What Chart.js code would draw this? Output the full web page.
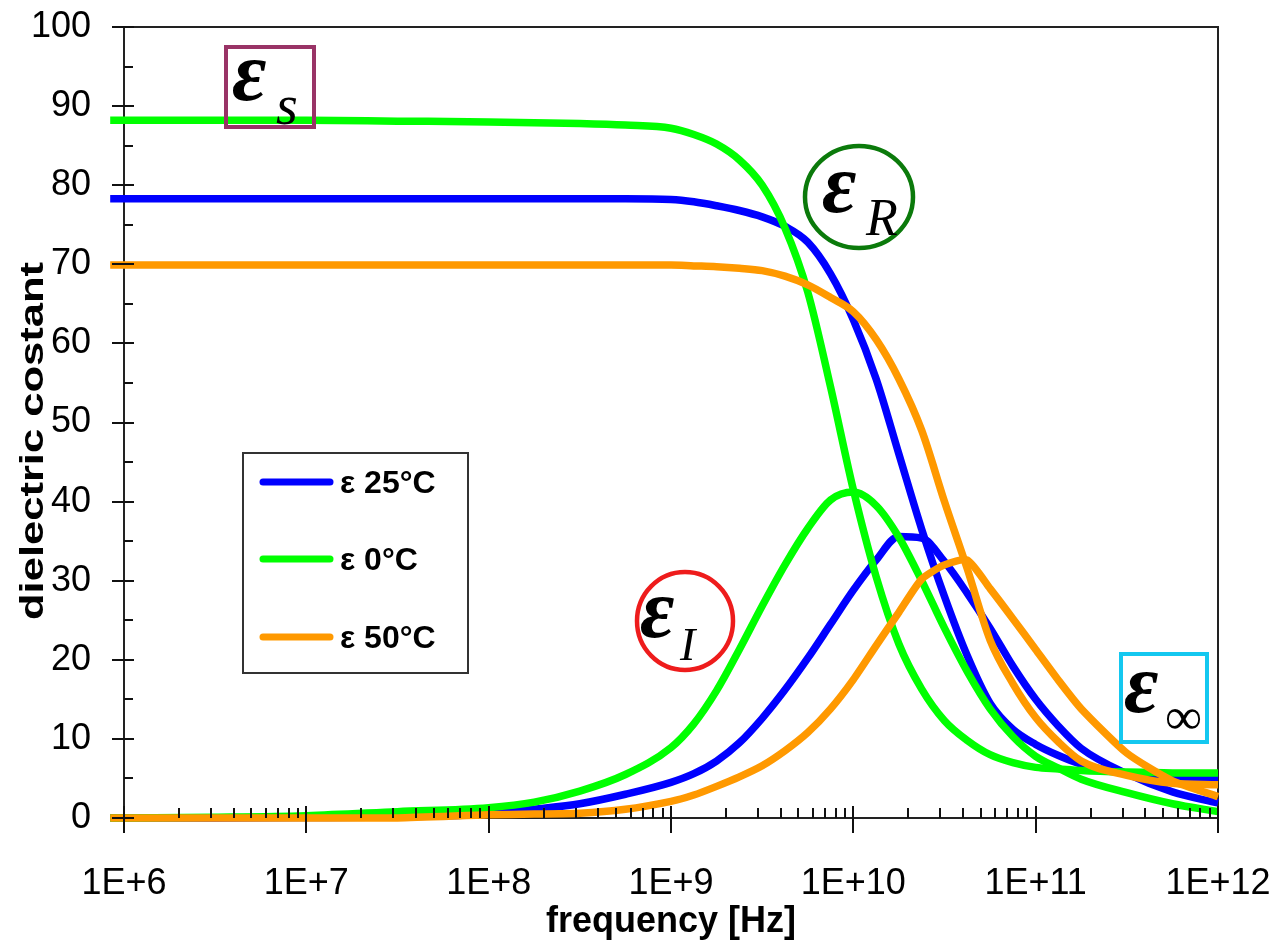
<!DOCTYPE html>
<html><head><meta charset="utf-8">
<script src="https://cdn.jsdelivr.net/npm/chart.js@4.4.1/dist/chart.umd.min.js"></script>
<style>html,body{margin:0;padding:0;background:#fff;overflow:hidden}canvas{display:block}</style>
</head><body>
<canvas id="c" width="1276" height="946"></canvas>
<script>
// ---- data ----
const frequencies = [8.4e5, 1e6, 3.162e6, 1e7, 3.162e7, 1e8, 1.778e8, 3.162e8, 5.623e8, 1e9, 1.334e9, 1.778e9, 2.371e9, 3.162e9, 4.217e9, 5.623e9, 7.499e9, 1e10, 1.334e10, 1.778e10, 2.371e10, 3.162e10, 4.217e10, 5.623e10, 7.499e10, 1e11, 1.334e11, 1.778e11, 3.162e11, 5.623e11, 1e12];

const blueReal  = [78.3, 78.3, 78.3, 78.3, 78.3, 78.3, 78.3, 78.3, 78.3, 78.2, 77.9, 77.4, 76.8, 76.0, 74.8, 72.8, 68.8, 63.0, 55.5, 46.0, 36.5, 28.0, 20.5, 14.5, 11.2, 9.3, 7.9, 6.8, 5.6, 5.2, 5.0];
const blueImag  = [0, 0, 0, 0.05, 0.15, 0.5, 1.1, 1.8, 3.0, 4.5, 5.6, 7.2, 9.5, 12.6, 16.2, 20.2, 24.5, 28.8, 32.6, 35.6, 35.4, 32.4, 28.4, 24.0, 19.2, 15.0, 11.6, 8.8, 5.6, 3.3, 1.9];
const greenReal = [88.2, 88.2, 88.2, 88.2, 88.1, 88.0, 87.9, 87.8, 87.6, 87.2, 86.4, 85.2, 83.2, 80.0, 74.6, 66.5, 54.5, 41.5, 30.5, 22.0, 16.3, 12.3, 9.8, 8.0, 7.0, 6.4, 6.2, 6.0, 5.8, 5.7, 5.7];
const greenImag = [0, 0, 0.1, 0.3, 0.8, 1.3, 2.0, 3.4, 5.5, 8.9, 11.9, 16.1, 21.3, 26.8, 32.0, 36.6, 40.2, 41.2, 39.5, 35.5, 30.0, 24.0, 18.5, 13.8, 10.3, 7.8, 6.3, 4.9, 3.2, 1.8, 0.8];
const orangeReal = [69.9, 69.9, 69.9, 69.9, 69.9, 69.9, 69.9, 69.9, 69.9, 69.9, 69.8, 69.7, 69.5, 69.2, 68.5, 67.4, 65.8, 64.0, 60.5, 55.5, 49.0, 40.0, 31.5, 22.5, 17.0, 12.7, 9.6, 7.2, 5.4, 4.4, 4.2];
const orangeImag = [0, 0, 0, 0, 0, 0.4, 0.5, 0.6, 1.1, 2.1, 2.9, 4.0, 5.2, 6.6, 8.5, 10.8, 13.8, 17.5, 21.8, 26.0, 30.2, 32.0, 32.6, 29.0, 25.2, 21.3, 17.4, 13.8, 8.2, 4.7, 2.7];

const seriesLabels = ['ε 25°C', 'ε 0°C', 'ε 50°C'];
const xTickValues = [1e6, 1e7, 1e8, 1e9, 1e10, 1e11, 1e12];
const xTickLabels = ['1E+6', '1E+7', '1E+8', '1E+9', '1E+10', '1E+11', '1E+12'];
const xTitle = 'frequency [Hz]';
const yTitle = 'dielectric costant';

// ---- styling ----
const COLORS = ['#0000FF', '#00FF00', '#FF9900'];
const SANS = "'Liberation Sans', Arial, sans-serif";
const SERIF = "'Liberation Serif', 'Times New Roman', serif";

const pts = arr => frequencies.map((f, i) => ({x: f, y: arr[i]}));
function ds(label, arr, color, order, sharpPeak) {
  const d = {label, data: pts(arr), borderColor: color, backgroundColor: color, borderWidth: 7.5,
    pointRadius: 0, clip: false, order, borderJoinStyle: 'round', fill: false};
  if (sharpPeak) { d.cubicInterpolationMode = 'default'; d.tension = 0.2; }
  else { d.cubicInterpolationMode = 'monotone'; }
  return d;
}

const decor = {
  id: 'decor',
  beforeDatasetsDraw(chart) {
    const {ctx, chartArea: a} = chart;
    ctx.save();
    ctx.strokeStyle = '#222';
    ctx.lineWidth = 2;
    ctx.beginPath();
    ctx.moveTo(a.left, a.top); ctx.lineTo(a.right, a.top);
    ctx.lineTo(a.right, a.bottom); ctx.lineTo(a.left, a.bottom); ctx.closePath();
    ctx.stroke();
    ctx.restore();
  },
  afterDatasetsDraw(chart) {
    const {ctx, chartArea: a} = chart;
    const xs = chart.scales.x, ys = chart.scales.y;
    ctx.save();
    ctx.strokeStyle = '#111';
    ctx.lineWidth = 2;
    ctx.beginPath();
    for (let e = 6; e <= 12; e++) {
      const px = Math.round(xs.getPixelForValue(Math.pow(10, e)));
      ctx.moveTo(px, a.bottom - 12); ctx.lineTo(px, a.bottom + 15);
      if (e < 12) for (let d = 2; d <= 9; d++) {
        const mx = Math.round(xs.getPixelForValue(d * Math.pow(10, e)));
        ctx.moveTo(mx, a.bottom - 10); ctx.lineTo(mx, a.bottom);
      }
    }
    for (let v = 0; v <= 100; v += 5) {
      const py = Math.round(ys.getPixelForValue(v));
      if (v % 10 === 0) { ctx.moveTo(a.left - 12, py); ctx.lineTo(a.left + 10, py); }
      else { ctx.moveTo(a.left, py); ctx.lineTo(a.left + 9, py); }
    }
    ctx.stroke();

    // y axis title
    ctx.save();
    ctx.translate(43, 441);
    ctx.rotate(-Math.PI / 2);
    ctx.scale(1.28, 1);
    ctx.font = "bold 34px " + SANS;
    ctx.fillStyle = '#000';
    ctx.textAlign = 'center';
    ctx.textBaseline = 'alphabetic';
    ctx.fillText(yTitle, 0, 0);
    ctx.restore();

    // legend
    ctx.strokeStyle = '#333';
    ctx.lineWidth = 2;
    ctx.strokeRect(243, 453, 225, 220);
    const rows = [482, 559, 637];
    seriesLabels.forEach((lab, i) => {
      ctx.beginPath();
      ctx.strokeStyle = COLORS[i];
      ctx.lineWidth = 7;
      ctx.lineCap = 'round';
      ctx.moveTo(263, rows[i]); ctx.lineTo(330, rows[i]);
      ctx.stroke();
      ctx.fillStyle = '#000';
      ctx.font = "bold 32px " + SANS;
      ctx.textAlign = 'left';
      ctx.textBaseline = 'middle';
      ctx.fillText(lab, 340, rows[i] + 2);
    });
    ctx.lineCap = 'butt';

    // annotations
    ctx.lineWidth = 4;
    ctx.strokeStyle = '#993366';
    ctx.strokeRect(226, 47, 88, 80);
    ctx.strokeStyle = '#0b7a0b';
    ctx.lineWidth = 4.5;
    ctx.beginPath(); ctx.ellipse(859, 197, 54, 51, 0, 0, Math.PI * 2); ctx.stroke();
    ctx.strokeStyle = '#ee1c1c';
    ctx.beginPath(); ctx.ellipse(685, 621, 48, 49, 0, 0, Math.PI * 2); ctx.stroke();
    ctx.strokeStyle = '#14c8f0';
    ctx.lineWidth = 4;
    ctx.strokeRect(1121, 654, 86, 88);

    ctx.fillStyle = '#000';
    ctx.textAlign = 'left';
    ctx.textBaseline = 'alphabetic';
    const eps = (x, y) => { ctx.font = "bold italic 84px " + SERIF; ctx.fillText('ε', x, y); };
    eps(232, 100); ctx.font = "italic 56px " + SERIF; ctx.fillText('s', 276, 124);
    eps(822, 212); ctx.font = "italic 52px " + SERIF; ctx.fillText('R', 866, 235);
    eps(640, 637); ctx.font = "italic 46px " + SERIF; ctx.fillText('I', 680, 660);
    eps(1124, 712); ctx.font = "52px " + SERIF; ctx.fillText('∞', 1165, 734);
    ctx.restore();
  }
};

new Chart(document.getElementById('c'), {
  type: 'line',
  data: {
    datasets: [
      ds(seriesLabels[0], blueReal, COLORS[0], 3),
      ds(seriesLabels[0], blueImag, COLORS[0], 3),
      ds(seriesLabels[1], greenReal, COLORS[1], 1),
      ds(seriesLabels[1], greenImag, COLORS[1], 1),
      ds(seriesLabels[2], orangeReal, COLORS[2], 0),
      ds(seriesLabels[2], orangeImag, COLORS[2], 0, true)
    ]
  },
  options: {
    responsive: false, animation: false, devicePixelRatio: 1, events: [],
    layout: {padding: {left: 0, right: 58, top: 27, bottom: 0}, autoPadding: false},
    plugins: {legend: {display: false}, tooltip: {enabled: false}},
    scales: {
      x: {
        type: 'logarithmic', min: 1e6, max: 1e12,
        grid: {display: false, drawTicks: false}, border: {display: false},
        afterBuildTicks: s => { s.ticks = xTickValues.map(v => ({value: v})); },
        afterFit: s => { s.height = 128; s.paddingLeft = 0; s.paddingRight = 0; },
        ticks: {autoSkip: false, maxRotation: 0, minRotation: 0, padding: 44, color: '#000',
          font: {family: SANS, size: 36, lineHeight: 1.2},
          callback: (v, i) => xTickLabels[i]},
        title: {display: true, text: xTitle, color: '#000',
          font: {family: SANS, size: 36, weight: 'bold', lineHeight: 1}, padding: {top: 0, bottom: 6}}
      },
      y: {
        min: 0, max: 100,
        grid: {display: false, drawTicks: false}, border: {display: false},
        afterFit: s => { s.width = 124; s.paddingTop = 0; s.paddingBottom = 0; },
        ticks: {stepSize: 10, padding: 33, color: '#000', font: {family: SANS, size: 36}}
      }
    }
  },
  plugins: [decor]
});
</script>
</body></html>
